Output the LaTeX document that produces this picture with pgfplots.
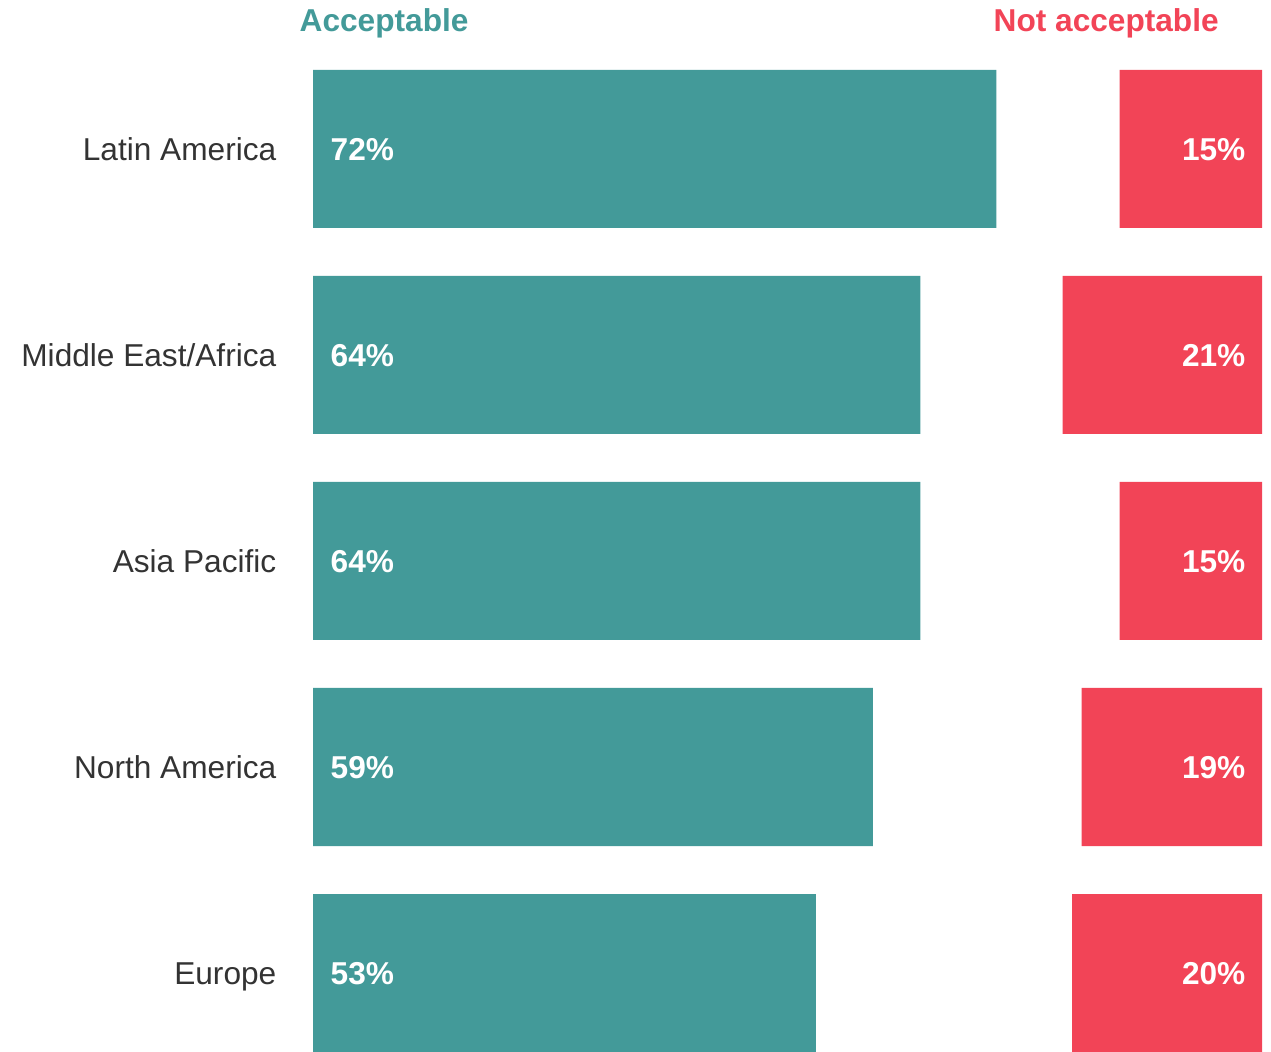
\documentclass[border=0pt]{standalone}
\usepackage{pgfplots}
\usepackage{pgfplotstable}
\pgfplotsset{compat=1.18}
\usepackage{fontspec}
\setmainfont{Liberation Sans}
\definecolor{okteal}{HTML}{439A99}
\definecolor{nored}{HTML}{F24457}
\definecolor{labgray}{HTML}{333333}

\tikzset{
  accl/.style={anchor=base west, inner sep=0pt, xshift=0.17cm, yshift=-0.115cm,
    text=white, font=\fontsize{9}{10.8}\selectfont\bfseries},
  nacl/.style={anchor=base east, inner sep=0pt, xshift=-0.16cm, yshift=-0.115cm,
    text=white, font=\fontsize{9}{10.8}\selectfont\bfseries}
}

% pos: 0 = Europe (bottom) ... 4 = Latin America (top)
\pgfplotstableread{
pos acc nacc
0   53  20
1   59  19
2   64  15
3   64  21
4   72  15
}\regions

\begin{document}
\fontsize{9}{10.8}\selectfont
\begin{tikzpicture}
\path[use as bounding box] (-3.13,0) rectangle (9.58,10.51);
\begin{axis}[
  scale only axis,
  width=9.49cm, height=10.05cm,
  xmin=0, xmax=100, ymin=-0.3786, ymax=4.5,
  xbar stacked, bar width=0.767,
  axis line style={draw=none},
  major tick length=0pt,
  xtick=\empty,
  ytick={0,...,4},
  yticklabels={Europe,North America,Asia Pacific,Middle East/Africa,Latin America},
  yticklabel style={anchor=base east, inner sep=0pt, xshift=-0.36cm, yshift=-0.115cm,
    text=labgray, font=\fontsize{9}{10.8}\selectfont},
  clip=false,
]
  \addplot[fill=okteal, draw=none] table[x=acc, y=pos] {\regions};
  % invisible spacer so the red bars end at 100
  \addplot[fill=none, draw=none] table[x expr=100-\thisrow{acc}-\thisrow{nacc}, y=pos] {\regions};
  \addplot[fill=nored, draw=none] table[x=nacc, y=pos] {\regions};

  % anchors for the value labels, drawn after the axis so they sit on the bars
  \coordinate (a4) at (axis cs:0,4);
  \coordinate (a3) at (axis cs:0,3);
  \coordinate (a2) at (axis cs:0,2);
  \coordinate (a1) at (axis cs:0,1);
  \coordinate (a0) at (axis cs:0,0);
  \coordinate (n4) at (axis cs:100,4);
  \coordinate (n3) at (axis cs:100,3);
  \coordinate (n2) at (axis cs:100,2);
  \coordinate (n1) at (axis cs:100,1);
  \coordinate (n0) at (axis cs:100,0);
\end{axis}
\node[accl] at (a4) {72\%};
\node[accl] at (a3) {64\%};
\node[accl] at (a2) {64\%};
\node[accl] at (a1) {59\%};
\node[accl] at (a0) {53\%};
\node[nacl] at (n4) {15\%};
\node[nacl] at (n3) {21\%};
\node[nacl] at (n2) {15\%};
\node[nacl] at (n1) {19\%};
\node[nacl] at (n0) {20\%};
% column headers
\node[anchor=base west, inner sep=0pt, text=okteal, font=\fontsize{9}{10.8}\selectfont\bfseries]
  at (-0.14,10.19) {Acceptable};
\node[anchor=base west, inner sep=0pt, text=nored, font=\fontsize{9}{10.8}\selectfont\bfseries]
  at (6.80,10.19) {Not acceptable};
\end{tikzpicture}
\end{document}
